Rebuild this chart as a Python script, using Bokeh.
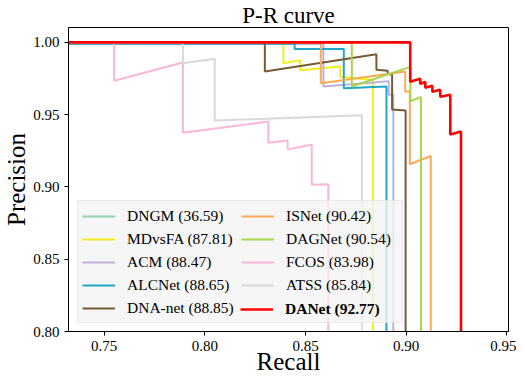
from bokeh.plotting import figure
from bokeh.models import Legend, LegendItem, FixedTicker, Range1d, NumeralTickFormatter
from bokeh.embed import file_html
from bokeh.resources import INLINE

# ---- data ----
names = ["DNGM (36.59)", "MDvsFA (87.81)", "ACM (88.47)", "ALCNet (88.65)", "DNA-net (88.85)",
         "ISNet (90.42)", "DAGNet (90.54)", "FCOS (83.98)", "ATSS (85.84)", "DANet (92.77)"]
colors = ["#8dd3b0", "#f4ee1c", "#bdb0db", "#1fa8c9", "#765a32",
          "#fdaa55", "#a6d64a", "#fbb6d6", "#d9d9d9", "#ff0000"]

dngm_r = [0.0, 0.38, 0.38]
dngm_p = [1.0, 0.97, 0.0]

mdvsfa_r = [0.0, 0.8390, 0.8390, 0.8473, 0.8473, 0.8672, 0.8672, 0.8835, 0.8835]
mdvsfa_p = [1.0, 1.0, 0.9856, 0.9876, 0.9808, 0.9834, 0.9762, 0.9740, 0.0]

acm_r = [0.0, 0.8589, 0.8589, 0.8913, 0.8913, 0.8936, 0.8936]
acm_p = [0.9988, 0.9988, 0.9695, 0.9731, 0.9638, 0.9638, 0.0]

alcnet_r = [0.0, 0.8446, 0.8446, 0.8690, 0.8690, 0.8902, 0.8902]
alcnet_p = [0.9990, 0.9990, 0.9954, 0.9954, 0.9682, 0.9695, 0.0]

dnanet_r = [0.0, 0.8298, 0.8298, 0.8852, 0.8852, 0.8908, 0.8908, 0.8930, 0.8930, 0.8997, 0.8997]
dnanet_p = [1.0, 1.0, 0.9798, 0.9918, 0.9810, 0.9803, 0.9779, 0.9779, 0.9535, 0.9529, 0.0]

isnet_r = [0.0, 0.8576, 0.8576, 0.8995, 0.8995, 0.9018, 0.9018, 0.9122, 0.9122]
isnet_p = [1.0, 1.0, 0.9718, 0.9798, 0.9660, 0.9660, 0.9157, 0.9214, 0.0]

dagnet_r = [0.0, 0.8730, 0.8730, 0.9013, 0.9021, 0.9021, 0.9073, 0.9073]
dagnet_p = [1.0, 1.0, 0.9695, 0.9827, 0.9827, 0.9592, 0.9623, 0.0]

fcos_r = [0.0, 0.7550, 0.7550, 0.7891, 0.7891, 0.8315, 0.8315, 0.8411, 0.8411, 0.8531, 0.8531, 0.8613, 0.8613]
fcos_p = [1.0, 1.0, 0.9734, 0.9861, 0.9375, 0.9452, 0.9306, 0.9322, 0.9260, 0.9292, 0.9016, 0.9019, 0.0]

atss_r = [0.0, 0.7891, 0.7891, 0.8049, 0.8049, 0.8780, 0.8780]
atss_p = [0.9995, 0.9995, 0.9856, 0.9887, 0.9459, 0.9496, 0.0]

danet_r = [0.0, 0.9020, 0.9020, 0.9070, 0.9070, 0.9095, 0.9095, 0.9130, 0.9130, 0.9169, 0.9169,
           0.9219, 0.9219, 0.9272, 0.9272]
danet_p = [1.0, 1.0, 0.9727, 0.9748, 0.9713, 0.9727, 0.9686, 0.9700, 0.9658, 0.9672, 0.9624,
           0.9638, 0.9363, 0.9384, 0.0]

recalls = [dngm_r, mdvsfa_r, acm_r, alcnet_r, dnanet_r, isnet_r, dagnet_r, fcos_r, atss_r, danet_r]
precisions = [dngm_p, mdvsfa_p, acm_p, alcnet_p, dnanet_p, isnet_p, dagnet_p, fcos_p, atss_p, danet_p]

x_ticks = [0.75, 0.80, 0.85, 0.90, 0.95]
y_ticks = [0.80, 0.85, 0.90, 0.95, 1.00]

FONT = "Liberation Serif"

p = figure(frame_width=440, frame_height=304, output_backend="svg", toolbar_location=None,
           x_range=Range1d(0.7323, 0.9508), y_range=Range1d(0.80, 1.0103),
           min_border_left=64, min_border_right=8, min_border_top=0, min_border_bottom=0)

p.title.text = "P-R curve"
p.title.text_font = FONT
p.title.text_font_size = "23px"
p.title.text_font_style = "normal"
p.title.align = "center"
p.title.text_color = "black"
p.title.standoff = 0

renderers = []
for r, pr, c, n in zip(recalls, precisions, colors, names):
    lw = 2.6 if n.startswith("DANet") else 2.0
    rr = p.line(r, pr, line_color=c, line_width=lw)
    renderers.append(rr)

for ax in (p.xaxis[0], p.yaxis[0]):
    ax.major_label_text_font = FONT
    ax.major_label_text_font_size = "15px"
    ax.major_label_text_color = "black"
    ax.axis_label_text_font = FONT
    ax.axis_label_text_font_size = "25px"
    ax.axis_label_text_font_style = "normal"
    ax.axis_label_text_color = "black"
    ax.major_tick_out = 4
    ax.major_tick_in = 0
    ax.minor_tick_out = 0
    ax.minor_tick_in = 0
    ax.axis_line_color = "black"
    ax.major_tick_line_color = "black"
    ax.formatter = NumeralTickFormatter(format="0.00")
    ax.major_label_standoff = 5

p.xaxis.axis_label_standoff = -6
p.yaxis.axis_label_standoff = 0
p.xaxis.ticker = FixedTicker(ticks=x_ticks)
p.yaxis.ticker = FixedTicker(ticks=y_ticks)
p.xaxis.axis_label = "Recall"
p.yaxis.axis_label = "Precision"
p.xgrid.visible = False
p.ygrid.visible = False
p.outline_line_color = "black"
p.outline_line_alpha = 1.0
p.outline_line_width = 1

items = [LegendItem(label=n, renderers=[r]) for n, r in zip(names[:-1], renderers[:-1])]
leg = Legend(items=items, location=(9, 8), orientation="vertical", nrows=5,
             label_text_font=FONT, label_text_font_size="15.5px", label_text_color="black",
             glyph_width=33, glyph_height=18, label_height=21, label_width=112, label_standoff=12,
             spacing=2, padding=4, margin=0,
             background_fill_color="#f4f4f4", background_fill_alpha=0.8,
             border_line_color="#dcdcdc", border_line_width=1)
p.add_layout(leg, "center")

leg2 = Legend(items=[LegendItem(label=names[-1], renderers=[renderers[-1]])], location=(172, 12),
              orientation="vertical", label_text_font=FONT, label_text_font_size="15.5px",
              label_text_font_style="bold", label_text_color="black",
              glyph_width=33, glyph_height=18, label_height=21, label_standoff=12,
              spacing=0, padding=0, margin=0,
              background_fill_alpha=0, border_line_alpha=0)
p.add_layout(leg2, "center")

open("out.html", "w").write(file_html(p, INLINE))
